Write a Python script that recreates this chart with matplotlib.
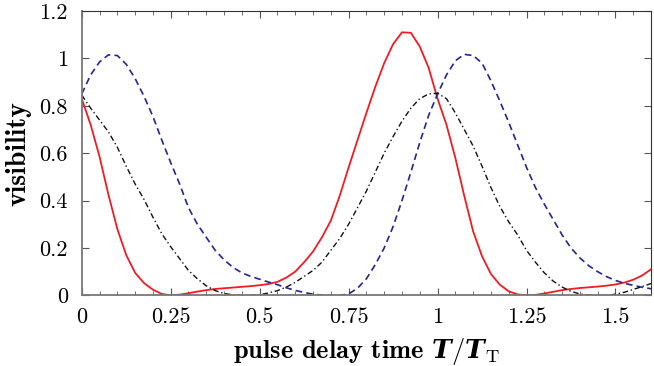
import matplotlib
matplotlib.use("Agg")
import matplotlib.pyplot as plt
from matplotlib.ticker import MultipleLocator

plt.rcParams['font.family'] = 'cmr10'
plt.rcParams['axes.formatter.use_mathtext'] = True
plt.rcParams['mathtext.fontset'] = 'custom'
plt.rcParams['mathtext.rm'] = 'cmr10'
plt.rcParams['mathtext.it'] = 'cmmi10'
plt.rcParams['mathtext.bf'] = 'cmb10'
plt.rcParams['mathtext.bfit'] = 'DejaVu Serif:italic:bold'

# pulse delay time T/T_T
t = [0.0, 0.025, 0.05, 0.075, 0.1, 0.125, 0.15, 0.175, 0.2, 0.225,
     0.25, 0.275, 0.3, 0.325, 0.35, 0.375, 0.4, 0.425, 0.45, 0.475,
     0.5, 0.525, 0.55, 0.575, 0.6, 0.625, 0.65, 0.675, 0.7, 0.725,
     0.75, 0.775, 0.8, 0.825, 0.85, 0.875, 0.9, 0.925, 0.95, 0.975,
     1.0, 1.025, 1.05, 1.075, 1.1, 1.125, 1.15, 1.175, 1.2, 1.225,
     1.25, 1.275, 1.3, 1.325, 1.35, 1.375, 1.4, 1.425, 1.45, 1.475,
     1.5, 1.525, 1.55, 1.575, 1.6]

# red solid
vis_red = [0.83, 0.72, 0.585, 0.425, 0.28, 0.17, 0.095, 0.052, 0.024, 0.006,
           0.0, 0.003, 0.009, 0.016, 0.022, 0.027, 0.030, 0.033, 0.036, 0.039,
           0.043, 0.048, 0.057, 0.075, 0.10, 0.14, 0.185, 0.245, 0.315, 0.42,
           0.54, 0.655, 0.77, 0.88, 0.98, 1.06, 1.11, 1.108, 1.05, 0.96,
           0.83, 0.72, 0.58, 0.42, 0.27, 0.165, 0.09, 0.045, 0.017, 0.004,
           0.0, 0.002, 0.008, 0.015, 0.022, 0.027, 0.031, 0.034, 0.037, 0.041,
           0.046, 0.054, 0.066, 0.084, 0.11]

# blue dashed
vis_blue = [0.85, 0.93, 0.985, 1.015, 1.012, 0.975, 0.915, 0.84, 0.755, 0.655,
            0.56, 0.47, 0.37, 0.3, 0.245, 0.19, 0.15, 0.118, 0.095, 0.08,
            0.068, 0.056, 0.045, 0.032, 0.021, 0.012, 0.005, 0.001, 0.0, 0.0,
            0.006, 0.03, 0.07, 0.13, 0.2, 0.29, 0.4, 0.52, 0.645, 0.76,
            0.85, 0.93, 0.99, 1.017, 1.012, 0.98, 0.905, 0.82, 0.73, 0.635,
            0.54, 0.455, 0.385, 0.32, 0.255, 0.2, 0.158, 0.125, 0.1, 0.079,
            0.063, 0.051, 0.042, 0.034, 0.028]

# black dash-dot
vis_black = [0.845, 0.79, 0.74, 0.69, 0.625, 0.545, 0.47, 0.405, 0.33, 0.26,
             0.205, 0.155, 0.105, 0.07, 0.04, 0.02, 0.008, 0.002, 0.0, 0.0,
             0.003, 0.01, 0.02, 0.035, 0.055, 0.08, 0.105, 0.14, 0.19, 0.24,
             0.30, 0.37, 0.44, 0.52, 0.60, 0.67, 0.735, 0.79, 0.83, 0.85,
             0.853, 0.83, 0.77, 0.70, 0.63, 0.545, 0.455, 0.375, 0.31, 0.255,
             0.19, 0.14, 0.095, 0.06, 0.035, 0.017, 0.006, 0.001, 0.0, 0.0,
             0.005, 0.013, 0.025, 0.037, 0.05]

xticks = [0, 0.25, 0.5, 0.75, 1, 1.25, 1.5]
xticklabels = ['0', '0.25', '0.5', '0.75', '1', '1.25', '1.5']
yticks = [0, 0.2, 0.4, 0.6, 0.8, 1, 1.2]
yticklabels = ['0', '0.2', '0.4', '0.6', '0.8', '1', '1.2']

fig = plt.figure(figsize=(6.54, 3.66), dpi=100)
ax = fig.add_axes([0.125, 0.193, 0.8705, 0.777])

ax.plot(t, vis_red, color='#ee1c24', lw=1.3, ls='-')
ax.plot(t, vis_blue, color='#25258e', lw=1.2, ls=(0, (4, 2.5)))
ax.plot(t, vis_black, color='#111111', lw=1.0, ls=(0, (4, 2, 1, 2)))

ax.set_xlim(0, 1.6)
ax.set_ylim(0, 1.2)
ax.set_xticks(xticks)
ax.set_xticklabels(xticklabels)
ax.set_yticks(yticks)
ax.set_yticklabels(yticklabels)
ax.xaxis.set_minor_locator(MultipleLocator(0.05))

ax.tick_params(which='both', direction='in', top=True, right=True,
               color='#555555', labelsize=16)
ax.tick_params(axis='x', pad=9)
ax.tick_params(axis='y', pad=10)
ax.tick_params(which='major', length=5, width=0.8)
ax.tick_params(which='minor', length=3, width=0.6)

for side in ['left', 'bottom']:
    ax.spines[side].set_color('#777777')
    ax.spines[side].set_linewidth(1.3)
for side in ['top', 'right']:
    ax.spines[side].set_color('#333333')
    ax.spines[side].set_linewidth(0.8)

ax.set_xlabel(r'pulse delay time $\mathbfit{T}/\mathbfit{T}_{\mathrm{T}}$',
              fontfamily='cmb10', fontsize=19, labelpad=6)
ax.set_ylabel('visibility', fontfamily='cmb10', fontsize=20, labelpad=6)

fig.savefig('out.png', dpi=100)
